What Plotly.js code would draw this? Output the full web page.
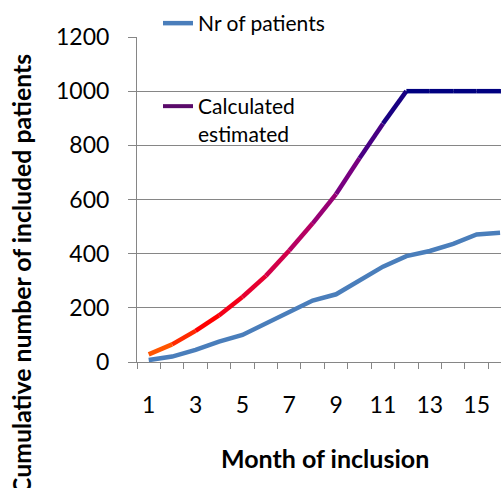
<!DOCTYPE html>
<html>
<head>
<meta charset="utf-8">
<script src="https://cdn.plot.ly/plotly-3.0.1.min.js"></script>
<style>html,body{margin:0;padding:0;background:#fff;}#chart{width:501px;height:488px;}</style>
</head>
<body>
<div id="chart"></div>
<script>
// ---- data ----
var months = [1, 2, 3, 4, 5, 6, 7, 8, 9, 10, 11, 12, 13, 14, 15, 16, 17];
var nrPatients = [7, 20, 45, 75, 100, 143, 182, 227, 250, 299, 352, 391, 410, 436, 471, 477];
var calcEstimated = [28, 65, 115, 172, 240, 318, 412, 512, 620, 752, 880, 1000, 1000, 1000, 1000, 1000, 1000];
var xTickLabels = ['1', '3', '5', '7', '9', '11', '13', '15'];
var seriesNames = ['Nr of patients', 'Calculated<br>estimated'];
var xTitle = 'Month of inclusion';
var yTitle = 'Cumulative number of included patients';

// ---- style ----
var FONT = 'Lato, "Open Sans", sans-serif';
var gridColor = '#868686';
var blue = '#4A7EBB';
var gradStops = [[1, [255, 106, 0]], [3.5, [255, 0, 0]], [6, [224, 0, 60]], [8, [168, 0, 110]], [9.5, [120, 0, 128]], [11, [48, 0, 132]], [12, [0, 0, 128]]];

function gradColor(m) {
  if (m <= gradStops[0][0]) return 'rgb(' + gradStops[0][1].join(',') + ')';
  for (var i = 1; i < gradStops.length; i++) {
    if (m <= gradStops[i][0]) {
      var a = gradStops[i - 1], b = gradStops[i];
      var t = (m - a[0]) / (b[0] - a[0]);
      var c = a[1].map(function (v, k) { return Math.round(v + (b[1][k] - v) * t); });
      return 'rgb(' + c.join(',') + ')';
    }
  }
  return 'rgb(' + gradStops[gradStops.length - 1][1].join(',') + ')';
}

var traces = [];
traces.push({
  x: months.slice(0, nrPatients.length), y: nrPatients, type: 'scatter', mode: 'lines',
  name: seriesNames[0], line: {color: blue, width: 4.5}, legend: 'legend', hoverinfo: 'skip'
});
for (var i = 0; i < calcEstimated.length - 1; i++) {
  traces.push({
    x: [months[i], months[i + 1]], y: [calcEstimated[i], calcEstimated[i + 1]],
    type: 'scatter', mode: 'lines', showlegend: false, hoverinfo: 'skip',
    line: {color: gradColor((months[i] + months[i + 1]) / 2), width: 4.5}
  });
}
// legend entry for the gradient series
traces.push({
  x: [null], y: [null], type: 'scatter', mode: 'lines', name: seriesNames[1],
  line: {color: '#5A0A6A', width: 4}, legend: 'legend2', hoverinfo: 'skip'
});

var tickVals = xTickLabels.map(Number);

var layout = {
  width: 501, height: 488,
  margin: {l: 137, r: 0, t: 37, b: 126, pad: 0, autoexpand: false},
  paper_bgcolor: '#fff', plot_bgcolor: '#fff',
  font: {family: FONT, size: 23, color: '#000'},
  showlegend: true,
  xaxis: {
    type: 'linear', range: [0.5, 16.04], fixedrange: true, automargin: false,
    tickvals: tickVals, ticktext: xTickLabels, ticks: '', showgrid: false, tickangle: 0,
    zeroline: false, showline: true, linecolor: gridColor, linewidth: 1,
    ticklabelstandoff: 22,
    tickfont: {family: FONT, size: 23, color: '#000'},
    minor: {tick0: 0.5, dtick: 1, ticks: 'outside', ticklen: 6, tickcolor: gridColor, tickwidth: 1, showgrid: false}
  },
  yaxis: {
    range: [0, 1200], dtick: 200, tick0: 0, fixedrange: true, automargin: false,
    ticks: 'outside', ticklen: 8, tickcolor: gridColor, tickwidth: 1,
    showgrid: true, gridcolor: gridColor, gridwidth: 1,
    zeroline: false, showline: true, linecolor: gridColor, linewidth: 1,
    ticklabelstandoff: 14,
    tickfont: {family: FONT, size: 23, color: '#000'}
  },
  legend: {
    xref: 'container', yref: 'container', x: 158 / 501, y: 1 - 3 / 488, xanchor: 'left', yanchor: 'top',
    bgcolor: 'rgba(0,0,0,0)', borderwidth: 0, font: {family: FONT, size: 21, color: '#000'}
  },
  legend2: {
    xref: 'container', yref: 'container', x: 158 / 501, y: 1 - 86 / 488, xanchor: 'left', yanchor: 'top',
    valign: 'top',
    bgcolor: 'rgba(0,0,0,0)', borderwidth: 0, font: {family: FONT, size: 21, color: '#000'}
  },
  annotations: [
    {text: '<b>' + xTitle + '</b>', xref: 'paper', yref: 'paper', x: (325 - 137) / 364, y: (362 - 458) / 325,
     xanchor: 'center', yanchor: 'middle',
     showarrow: false, font: {family: FONT, size: 25, color: '#000'}},
    {text: '<b>' + yTitle + '</b>', xref: 'paper', yref: 'paper', x: (21 - 137) / 364, y: (362 - 274) / 325,
     xanchor: 'center', yanchor: 'middle',
     textangle: -90, showarrow: false, font: {family: FONT, size: 24.8, color: '#000'}}
  ]
};

Plotly.newPlot('chart', traces, layout, {displayModeBar: false, staticPlot: true});
</script>
</body>
</html>
